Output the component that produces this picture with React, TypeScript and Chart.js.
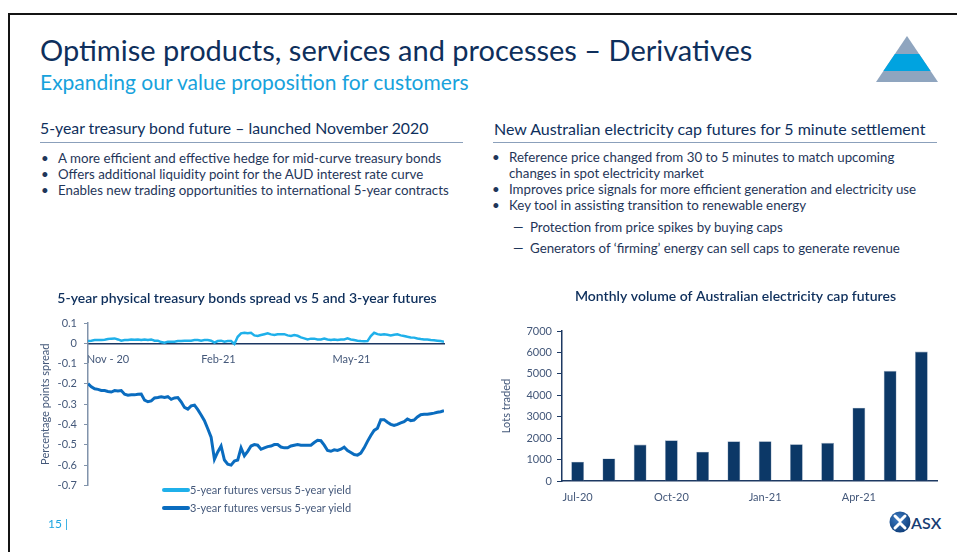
import React, { useEffect, useRef } from 'react';
import { Chart, registerables } from 'chart.js';

Chart.register(...registerables);

const FONT = 'Lato, "Noto Sans", sans-serif';
Chart.defaults.font.family = FONT;

// ---------- Line chart data ----------
const spreadTitle = '5-year physical treasury bonds spread vs 5 and 3-year futures';
const spreadYTitle = 'Percentage points spread';
const spreadTickLabels = ['Nov - 20', 'Feb-21', 'May-21'];
const spreadTickIndex = [6, 39.2, 79.2];
const fiveYearLabel = '5-year futures versus 5-year yield';
const threeYearLabel = '3-year futures versus 5-year yield';
const fiveYearSpread = [
  0.011, 0.013, 0.016, 0.016, 0.016, 0.018, 0.021, 0.023, 0.024, 0.019,
  0.013, 0.016, 0.016, 0.019, 0.018, 0.019, 0.016, 0.019, 0.016, 0.019,
  0.013, 0.013, 0.006, 0.003, 0.008, 0.008, 0.008, 0.011, 0.011, 0.013,
  0.013, 0.013, 0.016, 0.016, 0.013, 0.016, 0.016, 0.013, 0.003, 0.011,
  0.013, 0.008, 0.011, 0.011, -0.003, 0.032, 0.049, 0.052, 0.049, 0.052,
  0.039, 0.036, 0.041, 0.045, 0.049, 0.044, 0.041, 0.045, 0.044, 0.045,
  0.039, 0.036, 0.041, 0.037, 0.029, 0.024, 0.019, 0.023, 0.023, 0.019,
  0.019, 0.023, 0.019, 0.016, 0.019, 0.016, 0.019, 0.019, 0.024, 0.019,
  0.016, 0.013, 0.011, 0.010, 0.011, 0.036, 0.052, 0.045, 0.042, 0.044,
  0.042, 0.039, 0.042, 0.044, 0.039, 0.036, 0.032, 0.029, 0.028, 0.024,
  0.021, 0.019, 0.019, 0.016, 0.015, 0.013, 0.011, 0.008,
];
const threeYearSpread = [
  -0.199, -0.214, -0.224, -0.227, -0.232, -0.233, -0.237, -0.240, -0.233, -0.235,
  -0.233, -0.251, -0.256, -0.253, -0.254, -0.251, -0.250, -0.280, -0.288, -0.284,
  -0.269, -0.267, -0.263, -0.267, -0.263, -0.276, -0.269, -0.267, -0.288, -0.316,
  -0.324, -0.308, -0.305, -0.327, -0.353, -0.381, -0.421, -0.462, -0.571, -0.535,
  -0.506, -0.575, -0.596, -0.600, -0.580, -0.575, -0.515, -0.554, -0.532, -0.506,
  -0.499, -0.502, -0.522, -0.515, -0.509, -0.506, -0.499, -0.499, -0.511, -0.515,
  -0.515, -0.506, -0.502, -0.499, -0.502, -0.502, -0.502, -0.502, -0.489, -0.478,
  -0.480, -0.502, -0.528, -0.532, -0.525, -0.528, -0.522, -0.512, -0.528, -0.538,
  -0.548, -0.551, -0.541, -0.515, -0.483, -0.454, -0.429, -0.418, -0.376, -0.376,
  -0.389, -0.399, -0.405, -0.399, -0.392, -0.386, -0.373, -0.381, -0.378, -0.363,
  -0.352, -0.350, -0.350, -0.347, -0.344, -0.340, -0.337, -0.332,
];

// ---------- Bar chart data ----------
const barTitle = 'Monthly volume of Australian electricity cap futures';
const barYTitle = 'Lots traded';
const months = ['Jul-20', 'Aug-20', 'Sep-20', 'Oct-20', 'Nov-20', 'Dec-20', 'Jan-21', 'Feb-21', 'Mar-21', 'Apr-21', 'May-21', 'Jun-21'];
const lotsTraded = [900, 1050, 1700, 1900, 1370, 1850, 1860, 1720, 1780, 3420, 5140, 6040];

// ---------- Slide texts ----------
const slideTitle = 'Optimise products, services and processes – Derivatives';
const slideSubtitle = 'Expanding our value proposition for customers';
const leftHeader = '5-year treasury bond future – launched November 2020';
const leftBullets = [
  'A more efficient and effective hedge for mid-curve treasury bonds',
  'Offers additional liquidity point for the AUD interest rate curve',
  'Enables new trading opportunities to international 5-year contracts',
];
const rightHeader = 'New Australian electricity cap futures for 5 minute settlement';
const rightBulletLines = [
  { bullet: true, text: 'Reference price changed from 30 to 5 minutes to match upcoming' },
  { bullet: false, text: 'changes in spot electricity market' },
  { bullet: true, text: 'Improves price signals for more efficient generation and electricity use' },
  { bullet: true, text: 'Key tool in assisting transition to renewable energy' },
];
const rightDashes = [
  'Protection from price spikes by buying caps',
  'Generators of ‘firming’ energy can sell caps to generate revenue',
];

const NAVY = '#0e2f5c';
const TEXT = '#1f3659';
const AXIS_TEXT = '#44587a';
const LIGHT_LINE = '#1fb0ea';
const DARK_LINE = '#0a6cbf';

// invisible right-hand spacer axis so the title stays centred on the whole canvas
const spacerAxis = (w: number) => ({
  position: 'right' as const,
  display: true,
  grid: { display: false, drawTicks: false },
  border: { display: false },
  ticks: { display: false },
  afterFit: (s: any) => {
    s.width = w;
  },
});

function SpreadChart() {
  const ref = useRef<HTMLCanvasElement>(null);
  useEffect(() => {
    const chart = new Chart(ref.current as HTMLCanvasElement, {
      type: 'line',
      data: {
        datasets: [
          {
            label: fiveYearLabel,
            data: fiveYearSpread.map((v, i) => ({ x: i, y: v })),
            borderColor: LIGHT_LINE,
            backgroundColor: LIGHT_LINE,
            borderWidth: 2.5,
            pointRadius: 0,
            tension: 0,
          },
          {
            label: threeYearLabel,
            data: threeYearSpread.map((v, i) => ({ x: i, y: v })),
            borderColor: DARK_LINE,
            backgroundColor: DARK_LINE,
            borderWidth: 3,
            pointRadius: 0,
            tension: 0,
          },
        ],
      },
      options: {
        animation: false,
        responsive: false,
        events: [],
        layout: { padding: { left: 0, right: 0, top: 0, bottom: 10 } },
        plugins: {
          legend: { display: false },
          tooltip: { enabled: false },
          title: {
            display: true,
            text: spreadTitle,
            color: NAVY,
            font: { size: 14, weight: '600' as any, family: FONT },
            padding: { top: 7, bottom: 16.2 },
          },
        },
        scales: {
          x: {
            type: 'linear',
            min: 0,
            max: fiveYearSpread.length - 1,
            position: { y: 0 } as any,
            grid: { display: false },
            border: { display: true, color: '#1b3762', width: 1.5 },
            afterBuildTicks: (s: any) => {
              s.ticks = spreadTickIndex.map((v) => ({ value: v }));
            },
            afterFit: (s: any) => {
              s.height = 0;
            },
            ticks: {
              autoSkip: false,
              maxRotation: 0,
              padding: 2,
              color: AXIS_TEXT,
              font: { size: 11 },
              callback: (_v: any, i: number) => spreadTickLabels[i],
            },
          },
          y: {
            min: -0.7,
            max: 0.1,
            afterFit: (s: any) => {
              s.width = 58;
            },
            ticks: {
              stepSize: 0.1,
              padding: 7,
              color: AXIS_TEXT,
              font: { size: 11 },
              callback: (v: any) => String(Number(Number(v).toFixed(1))),
            },
            grid: { drawOnChartArea: false, tickLength: 4, color: '#8193ab' },
            border: { display: true, color: '#8193ab', width: 1.5 },
            title: {
              display: true,
              text: spreadYTitle,
              color: AXIS_TEXT,
              font: { size: 11 },
              padding: { top: 9, bottom: 0 },
            },
          },
          ySpacer: spacerAxis(20) as any,
        },
      },
    });
    return () => chart.destroy();
  }, []);
  return (
    <canvas
      ref={ref}
      width={434}
      height={216}
      style={{ position: 'absolute', left: 30, top: 283, width: 434, height: 216 }}
    />
  );
}

function VolumeChart() {
  const ref = useRef<HTMLCanvasElement>(null);
  useEffect(() => {
    const chart = new Chart(ref.current as HTMLCanvasElement, {
      type: 'bar',
      data: {
        labels: months,
        datasets: [
          {
            label: barYTitle,
            data: lotsTraded,
            backgroundColor: '#0c3867',
            borderColor: '#8fa2ba',
            borderWidth: 0.6,
            barPercentage: 0.41,
            categoryPercentage: 1,
          },
        ],
      },
      options: {
        animation: false,
        responsive: false,
        events: [],
        layout: { padding: { left: 0, right: 0, top: 0, bottom: 0 } },
        plugins: {
          legend: { display: false },
          tooltip: { enabled: false },
          title: {
            display: true,
            text: barTitle,
            color: NAVY,
            font: { size: 14, weight: '600' as any, family: FONT },
            padding: { top: 7, bottom: 26.2 },
          },
        },
        scales: {
          x: {
            grid: { display: false },
            border: { display: true, color: '#1d3962', width: 1.5 },
            afterFit: (s: any) => {
              s.height = 27;
            },
            ticks: {
              autoSkip: false,
              maxRotation: 0,
              padding: 2,
              color: AXIS_TEXT,
              font: { size: 11 },
              callback: (_v: any, i: number) => (i % 3 === 0 ? months[i] : ''),
            },
          },
          y: {
            min: 0,
            max: 7000,
            afterFit: (s: any) => {
              s.width = 62;
            },
            ticks: {
              stepSize: 1000,
              padding: 5,
              color: AXIS_TEXT,
              font: { size: 11 },
              callback: (v: any) => String(v),
            },
            grid: { drawOnChartArea: false, tickLength: 5, color: '#1d3962' },
            border: { display: true, color: '#1d3962', width: 1.5 },
            title: {
              display: true,
              text: barYTitle,
              color: AXIS_TEXT,
              font: { size: 11 },
              padding: { top: 0, bottom: 0 },
            },
          },
          ySpacer: spacerAxis(34) as any,
        },
      },
    });
    return () => chart.destroy();
  }, []);
  return (
    <canvas
      ref={ref}
      width={471}
      height={227}
      style={{ position: 'absolute', left: 500, top: 281, width: 471, height: 227 }}
    />
  );
}

const abs = (left: number, top: number, extra: React.CSSProperties = {}): React.CSSProperties => ({
  position: 'absolute',
  left,
  top,
  whiteSpace: 'nowrap',
  ...extra,
});

export default function App() {
  const bulletStyle = { fontSize: 13.3, lineHeight: '16px', color: TEXT };
  return (
    <div
      style={{
        position: 'fixed',
        left: 0,
        top: 0,
        width: 957,
        height: 552,
        overflow: 'hidden',
        background: '#ffffff',
        fontFamily: FONT,
      }}
    >
      {/* slide frame */}
      <div
        style={{
          position: 'absolute',
          left: 8,
          top: 13,
          width: 1000,
          height: 600,
          borderLeft: '2px solid #141414',
          borderTop: '2px solid #141414',
        }}
      />

      {/* titles */}
      <div style={abs(40, 32, { fontSize: 29, lineHeight: '35px', color: NAVY })}>{slideTitle}</div>
      <div style={abs(40, 69, { fontSize: 21, lineHeight: '25px', color: '#17a2dc' })}>{slideSubtitle}</div>

      {/* pyramid logo */}
      <svg style={{ position: 'absolute', left: 0, top: 0 }} width={957} height={100}>
        <polygon points="907,36 938,82 876,82" fill="#8fa5bf" />
        <polygon points="894.9,54 919.1,54 930.6,71 883.4,71" fill="#00a3e0" />
      </svg>

      {/* left section */}
      <div style={abs(40, 118, { fontSize: 15.8, lineHeight: '19px', color: NAVY })}>{leftHeader}</div>
      <div style={{ position: 'absolute', left: 40, top: 142, width: 423, height: 1, background: '#8ba0bb' }} />
      {leftBullets.map((t, i) => (
        <React.Fragment key={i}>
          <div style={abs(41, 150 + i * 16, bulletStyle)}>•</div>
          <div style={abs(58, 150 + i * 16, bulletStyle)}>{t}</div>
        </React.Fragment>
      ))}

      {/* right section */}
      <div style={abs(494, 119, { fontSize: 16, lineHeight: '19px', color: NAVY })}>{rightHeader}</div>
      <div style={{ position: 'absolute', left: 493, top: 142, width: 444, height: 1, background: '#8ba0bb' }} />
      {rightBulletLines.map((l, i) => (
        <React.Fragment key={i}>
          {l.bullet && <div style={abs(492, 149 + i * 16, bulletStyle)}>•</div>}
          <div style={abs(509, 149 + i * 16, bulletStyle)}>{l.text}</div>
        </React.Fragment>
      ))}
      {rightDashes.map((t, i) => (
        <React.Fragment key={i}>
          <div style={abs(513, 219 + i * 21, bulletStyle)}>—</div>
          <div style={abs(530, 219 + i * 21, bulletStyle)}>{t}</div>
        </React.Fragment>
      ))}

      {/* charts */}
      <SpreadChart />
      <VolumeChart />

      {/* line chart legend */}
      {[
        { label: fiveYearLabel, color: LIGHT_LINE, y: 490 },
        { label: threeYearLabel, color: DARK_LINE, y: 508 },
      ].map((l, i) => (
        <React.Fragment key={i}>
          <div style={{ position: 'absolute', left: 162, top: l.y - 2, width: 28, height: 4, background: l.color, borderRadius: 2 }} />
          <div style={abs(190, l.y - 7, { fontSize: 11, lineHeight: '13px', color: AXIS_TEXT })}>{l.label}</div>
        </React.Fragment>
      ))}

      {/* footer */}
      <div style={abs(48, 516, { fontSize: 12, lineHeight: '15px', color: '#1da5e0' })}>15 |</div>
      <svg style={{ position: 'absolute', left: 889, top: 511 }} width={22} height={22}>
        <defs>
          <radialGradient id="asxg" cx="40%" cy="35%" r="70%">
            <stop offset="0%" stopColor="#3d7cc4" />
            <stop offset="100%" stopColor="#0d3c78" />
          </radialGradient>
        </defs>
        <circle cx={11} cy={11} r={10.5} fill="url(#asxg)" />
        <path d="M6 5 L11 10 L16 5 M6 17 L11 12 L16 17" stroke="#ffffff" strokeWidth={3} fill="none" strokeLinecap="round" />
      </svg>
      <div style={abs(911, 513, { fontSize: 16, lineHeight: '19px', color: '#173d73', fontWeight: 600 })}>ASX</div>
    </div>
  );
}
